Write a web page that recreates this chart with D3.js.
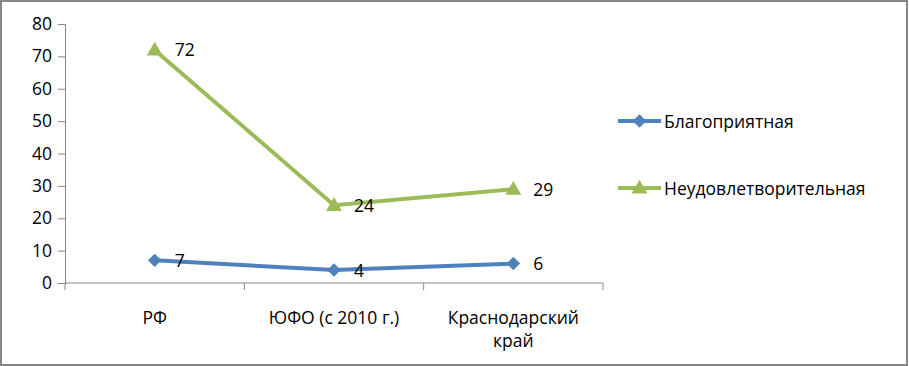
<!DOCTYPE html>
<html>
<head>
<meta charset="utf-8">
<script src="https://cdn.jsdelivr.net/npm/d3@7"></script>
<style>
  body { margin: 0; background: #fff; }
  svg text { font-family: "Open Sans", sans-serif; fill: #000; }
</style>
</head>
<body>
<svg id="chart" width="909" height="366"></svg>
<script>
// chart data
const categories = ['РФ', 'ЮФО (с 2010 г.)', 'Краснодарский край'];
const seriesNames = ['Благоприятная', 'Неудовлетворительная'];
const favorable = [7, 4, 6];
const unsatisfactory = [72, 24, 29];
const yTicks = [0, 10, 20, 30, 40, 50, 60, 70, 80];

const colors = ['#4f81bd', '#9bbb59'];
const datasets = [favorable, unsatisfactory];
const fontSize = '17.5px';

const svg = d3.select('#chart');

// outer frame
svg.append('rect')
    .attr('x', 1).attr('y', 1).attr('width', 906).attr('height', 364)
    .attr('fill', '#fff').attr('stroke', '#868686').attr('stroke-width', 2);

const margin = {left: 65, top: 24, right: 306, bottom: 83};
const width = 909 - margin.left - margin.right;
const height = 366 - margin.top - margin.bottom;

const g = svg.append('g').attr('transform', 'translate(' + margin.left + ',' + margin.top + ')');

const x = d3.scaleBand().domain(categories).range([0, width]);
const y = d3.scaleLinear().domain([0, 80]).range([height, 0]);

// marker: diamond is a square turned 45 degrees
function marker(s) {
    return s === 0
        ? d3.symbol().type(d3.symbolSquare).size(90)()
        : d3.symbol().type(d3.symbolTriangle).size(110)();
}
function markerRot(s) { return s === 0 ? ' rotate(45)' : ''; }

// y axis
const yAxis = d3.axisLeft(y).tickValues(yTicks).tickSize(7).tickPadding(6);
const yg = g.append('g').call(yAxis);
yg.selectAll('path, line').attr('stroke', '#868686');
yg.selectAll('text').style('font-size', fontSize).style('font-family', '"Open Sans", sans-serif').attr('fill', '#000');

// x axis with ticks at the band edges
const xg = g.append('g').attr('transform', 'translate(0,' + height + ')');
xg.append('line').attr('x1', 0).attr('x2', width).attr('stroke', '#868686');
const edges = categories.map(c => x(c)).concat([width]);
xg.selectAll('.edge').data(edges).join('line')
    .attr('x1', d => d).attr('x2', d => d).attr('y1', 0).attr('y2', 7)
    .attr('stroke', '#868686');
const xl = xg.selectAll('.cat').data(categories).join('text')
    .attr('x', c => x(c) + x.bandwidth() / 2)
    .attr('y', 41)
    .attr('text-anchor', 'middle')
    .style('font-size', fontSize);
xl.each(function(c) {
    const t = d3.select(this);
    const parts = c === 'Краснодарский край' ? ['Краснодарский', 'край'] : [c];
    parts.forEach((p, i) => {
        t.append('tspan').attr('x', x(c) + x.bandwidth() / 2).attr('dy', i ? 23 : 0).text(p);
    });
});

const cx = c => x(c) + x.bandwidth() / 2;
const line = d3.line().x((d, i) => cx(categories[i])).y(d => y(d));

datasets.forEach((data, s) => {
    g.append('path')
        .attr('d', line(data))
        .attr('fill', 'none')
        .attr('stroke', colors[s])
        .attr('stroke-width', 4);
    g.selectAll('.m' + s).data(data).join('path')
        .attr('transform', (d, i) => 'translate(' + cx(categories[i]) + ',' + (y(d) + (s === 1 ? 1 : 0)) + ')' + markerRot(s))
        .attr('d', marker(s))
        .attr('fill', colors[s]);
    g.selectAll('.l' + s).data(data).join('text')
        .attr('x', (d, i) => cx(categories[i]) + 20)
        .attr('y', d => y(d) + 6.5)
        .style('font-size', fontSize)
        .text(d => d);
});

// legend
const legend = svg.append('g');
seriesNames.forEach((name, s) => {
    const ly = s === 0 ? 121 : 188;
    legend.append('line')
        .attr('x1', 618).attr('x2', 661).attr('y1', ly).attr('y2', ly)
        .attr('stroke', colors[s]).attr('stroke-width', 4);
    legend.append('path')
        .attr('transform', 'translate(639.5,' + (ly + (s === 1 ? 1 : 0)) + ')' + markerRot(s))
        .attr('d', marker(s))
        .attr('fill', colors[s]);
    legend.append('text')
        .attr('x', 664).attr('y', ly + 6.5)
        .style('font-size', fontSize)
        .text(name);
});
</script>
</body>
</html>
